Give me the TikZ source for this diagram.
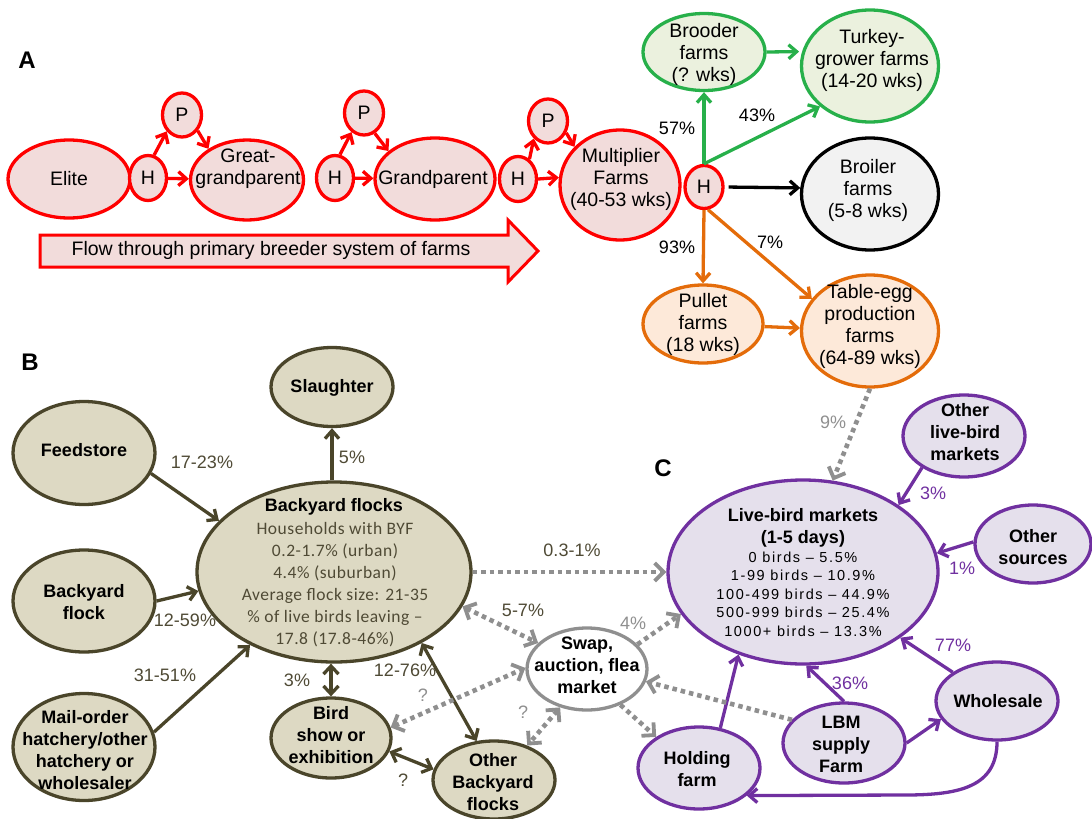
\documentclass[tikz,border=0pt]{standalone}
\usepackage{fontspec}
\setmainfont{Liberation Sans}
\newfontfamily\calibfont[LetterSpace=3]{Carlito}
\newfontfamily\spacedfont[LetterSpace=11]{Liberation Sans}
\usetikzlibrary{shapes.geometric,arrows.meta}
\definecolor{redS}{HTML}{FF0000}
\definecolor{redF}{HTML}{F2DCDB}
\definecolor{grnS}{HTML}{27B04A}
\definecolor{grnF}{HTML}{EBF1DE}
\definecolor{blkF}{HTML}{F2F2F2}
\definecolor{orgS}{HTML}{E46C0A}
\definecolor{orgF}{HTML}{FDE9D9}
\definecolor{olvS}{HTML}{4A452A}
\definecolor{olvF}{HTML}{DDD9C3}
\definecolor{olvT}{HTML}{4F4A35}
\definecolor{purS}{HTML}{7030A0}
\definecolor{purF}{HTML}{E5E0EC}
\definecolor{gryS}{HTML}{8F8F8F}
\newcommand\ftA{\fontsize{19.5}{22}\selectfont}
\newcommand\ftB{\fontsize{18}{22}\selectfont\bfseries}
\newcommand\ftL{\fontsize{18}{20}\selectfont}
\newcommand\ftD{\fontsize{17.5}{22}\selectfont\calibfont}
\newcommand\ftE{\fontsize{14.5}{18.5}\selectfont\spacedfont}
\newcommand\ftT{\fontsize{24}{26}\selectfont\bfseries}
\begin{document}
\begin{tikzpicture}[x=1pt,y=-1pt,
  ell/.style={ellipse, inner sep=0pt, line width=3.3pt},
  redE/.style={ell, draw=redS, fill=redF},
  grnE/.style={ell, draw=grnS, fill=grnF},
  blkE/.style={ell, draw=black, fill=blkF},
  orgE/.style={ell, draw=orgS, fill=orgF},
  olvE/.style={ell, draw=olvS, fill=olvF},
  swpE/.style={ell, draw=gryS, fill=white},
  purE/.style={ell, draw=purS, fill=purF},
  txtA/.style={inner sep=0pt, align=center, font=\ftA},
  txtB/.style={inner sep=0pt, align=center, font=\ftB},
  lbl/.style={inner sep=0pt, font=\ftL},
  conn/.style={line width=3.3pt, -{Straight Barb[length=8pt,width=14pt]}},
  dconn/.style={line width=3.3pt, {Straight Barb[length=8pt,width=15pt]}-{Straight Barb[length=8pt,width=15pt]}},
  redA/.style={conn, draw=redS},
  grnA/.style={conn, draw=grnS},
  blkA/.style={conn, draw=black},
  orgA/.style={conn, draw=orgS},
  olvA/.style={conn, draw=olvS},
  olvD/.style={dconn, draw=olvS},
  purA/.style={conn, draw=purS},
  dotA/.style={line width=4.6pt, draw=gryS, dash pattern=on 4.5pt off 4pt, -{Straight Barb[length=9pt,width=18pt,line width=3.8pt]}},
  dotD/.style={line width=4.6pt, draw=gryS, dash pattern=on 4.5pt off 4pt, {Straight Barb[length=9pt,width=18pt,line width=3.8pt]}-{Straight Barb[length=9pt,width=18pt,line width=3.8pt]}}
]
\useasboundingbox (0,0) rectangle (1092,819);

% ---------------- A ----------------
\node[font=\ftT, inner sep=0pt] (labA) at (27,60) {A};
\node[redE, minimum width=122, minimum height=78] (elite) at (69,179) {};
\node[redE, minimum width=37, minimum height=45, font=\ftA] (h1) at (148,178) {H};
\node[redE, minimum width=39, minimum height=44, font=\ftA] (p1) at (182,115) {P};
\node[redE, minimum width=113, minimum height=80] (gg) at (247,180) {};
\node[redE, minimum width=37, minimum height=45, font=\ftA] (h2) at (335,178) {H};
\node[redE, minimum width=39, minimum height=44, font=\ftA] (p2) at (364,113) {P};
\node[redE, minimum width=120, minimum height=82] (gp) at (435,179) {};
\node[redE, minimum width=37, minimum height=45, font=\ftA] (h3) at (518,179) {H};
\node[redE, minimum width=39, minimum height=44, font=\ftA] (p3) at (548,121) {P};
\node[redE, minimum width=120, minimum height=110] (mult) at (620,185) {};
\node[redE, minimum width=38, minimum height=43, font=\ftA] (hm) at (704,187) {H};
\node[grnE, minimum width=122, minimum height=77] (brood) at (704,52) {};
\node[grnE, minimum width=137, minimum height=112] (turk) at (870,66) {};
\node[blkE, minimum width=137, minimum height=112] (broil) at (870,194) {};
\node[orgE, minimum width=120, minimum height=78] (pull) at (703,324) {};
\node[orgE, minimum width=137, minimum height=112] (table) at (870,331) {};

\node[txtA] (eliteT) at (69,179) {Elite};
\node[txtA] (ggT) at (248,169) {Great-\\grandparent};
\node[txtA] (gpT) at (433,179) {Grandparent};
\node[txtA] (multT) at (621,179) {Multiplier\\Farms\\(40-53 wks)};
\node[txtA] (broodT) at (704,54) {Brooder\\farms\\(? wks)};
\node[txtA] (turkT) at (872,60) {Turkey-\\grower farms\\(14-20 wks)};
\node[txtA] (broilT) at (868,190) {Broiler\\farms\\(5-8 wks)};
\node[txtA] (pullT) at (703,324) {Pullet\\farms\\(18 wks)};
\node[txtA] (tableT) at (870,326) {Table-egg\\production\\farms\\(64-89 wks)};

\draw[redA] (h1.75) -- (p1.227);
\draw[redA] (p1.315) -- (gg.141);
\draw[redA] (h1) -- (gg);
\draw[redA] (h2.78) -- (p2.237);
\draw[redA] (p2.298) -- (gp.149);
\draw[redA] (h2) -- (gp);
\draw[redA] (h3.60) -- (p3.231);
\draw[redA] (p3.327) -- (mult.140);
\draw[redA] (h3.east) -- (mult.173);
\draw[grnA] (hm.north) -- (brood.south);
\draw[grnA] (hm.north) -- (turk.219);
\draw[grnA, shorten >=3pt] (brood.east) -- (turk.168);
\draw[blkA, shorten <=4pt] (hm.east) -- (broil.175);
\draw[orgA] (hm.south) -- (pull.north);
\draw[orgA] (hm.-80) -- (table.151);
\draw[orgA] (pull) -- (table);

\node[lbl] (l57) at (677,128) {57\%};
\node[lbl] (l43) at (757,115) {43\%};
\node[lbl] (l93) at (677,247) {93\%};
\node[lbl] (l7) at (770,242) {7\%};

\path[draw=redS, fill=redF, line width=3pt, line join=miter]
  (40,235) -- (508,235) -- (508,220) -- (538,251) -- (508,282) -- (508,267) -- (40,267) -- cycle;
\node[txtA] (flowT) at (271,250) {Flow through primary breeder system of farms};

% ---------------- B ----------------
\node[font=\ftT, inner sep=0pt] (labB) at (30,362) {B};
\node[olvE, minimum width=122, minimum height=79] (slau) at (332,387) {};
\node[olvE, minimum width=142, minimum height=103] (feed) at (84,453) {};
\node[olvE, minimum width=142, minimum height=102] (byf) at (84,601) {};
\node[olvE, minimum width=142, minimum height=107] (mail) at (84,747) {};
\node[olvE, minimum width=274, minimum height=180] (flocks) at (334,572) {};
\node[olvE, minimum width=120, minimum height=80] (bird) at (331,738) {};
\node[olvE, minimum width=122, minimum height=78] (oby) at (494,780) {};
\node[swpE, minimum width=120, minimum height=82] (swap) at (587,669) {};

\node[txtB] (slauT) at (332,388) {Slaughter};
\node[txtB] (feedT) at (84,450) {Feedstore};
\node[txtB] (byfT) at (84,602) {Backyard\\flock};
\node[txtB] (mailT) at (85,750) {Mail-order\\hatchery/other\\hatchery or\\wholesaler};
\node[txtB] (flocksT) at (334,507) {Backyard flocks};
\node[inner sep=0pt, align=center, font=\ftD, text=olvT] (flocksD) at (335,585)
  {Households with BYF\\0.2-1.7\% (urban)\\4.4\% (suburban)\\Average flock size: 21-35\\\% of live birds leaving –\\17.8 (17.8-46\%)};
\node[txtB] (birdT) at (331,735) {Bird\\show or\\exhibition};
\node[txtB] (obyT) at (493,782) {Other\\Backyard\\flocks};
\node[txtB] (swapT) at (587,665) {Swap,\\auction, flea\\market};

\draw[olvA] (feed.343.6) -- (flocks.156.9);
\draw[olvA] (byf.0.8) -- (flocks.188.4);
\draw[olvA] (mail.12.4) -- (flocks.221);
\draw[olvA] (slau.south |- flocks.north) -- (slau.south);
\draw[olvD] (bird.north |- flocks.south) -- (bird.north);
\draw[olvD] (flocks.321.6) -- (oby.114);
\draw[olvD] (bird.347) -- (oby.170.7);

\node[lbl, text=olvT] (l1723) at (202,462) {17-23\%};
\node[lbl, text=olvT] (l5) at (352,457) {5\%};
\node[lbl, text=olvT] (l1259) at (185,620) {12-59\%};
\node[lbl, text=olvT] (l3151) at (165,675) {31-51\%};
\node[lbl, text=olvT] (l3) at (297,680) {3\%};
\node[lbl, text=olvT] (l1276) at (405,670) {12-76\%};
\node[lbl, text=olvT] (l57b) at (523,610) {5-7\%};
\node[lbl, text=olvT] (l031) at (572,550) {0.3-1\%};
\node[lbl, text=gryS] (lq1) at (423,695) {?};
\node[lbl, text=olvT] (lq2) at (403,780) {?};
\node[lbl, text=gryS] (lq3) at (523,712) {?};
\node[lbl, text=gryS] (l4) at (633,623) {4\%};
\node[lbl, text=gryS] (l9) at (833,422) {9\%};

% ---------------- C ----------------
\node[font=\ftT, inner sep=0pt] (labC) at (663,468) {C};
\node[purE, minimum width=270, minimum height=184] (lbm) at (803,572) {};
\node[purE, minimum width=122, minimum height=82] (olb) at (964,436) {};
\node[purE, minimum width=116, minimum height=78] (osrc) at (1033,544) {};
\node[purE, minimum width=122, minimum height=78] (whole) at (997,701) {};
\node[purE, minimum width=122, minimum height=80] (lbms) at (844,743) {};
\node[purE, minimum width=122, minimum height=82] (hold) at (699,768) {};

\node[txtB] (lbmT) at (803,528) {Live-bird markets\\(1-5 days)};
\node[inner sep=0pt, align=center, font=\ftE] (lbmD) at (803,594)
  {0 birds – 5.5\%\\1-99 birds – 10.9\%\\100-499 birds – 44.9\%\\500-999 birds – 25.4\%\\1000+ birds – 13.3\%};
\node[txtB] (olbT) at (965,432) {Other\\live-bird\\markets};
\node[txtB] (osrcT) at (1033,547) {Other\\sources};
\node[txtB] (wholeT) at (998,701) {Wholesale};
\node[txtB] (lbmsT) at (841,744) {LBM\\supply\\Farm};
\node[txtB] (holdT) at (697,769) {Holding\\farm};

\draw[purA] (olb.217) -- (lbm.35.4);
\draw[purA] (osrc.178) -- (lbm.8.5);
\draw[purA] (whole.147.5) -- (lbm.326);
\draw[purA] (lbms.north) -- (lbm.272.5);
\draw[purA] (lbms.east) -- (whole.198.4);
\draw[purA] (hold.62) -- (lbm.232);
\coordinate (wbend) at (905,795);
\draw[purA] (whole.south) .. controls +(0,45) and +(55,0) .. (wbend) -- (hold.330);

\node[lbl, text=purS] (l3c) at (933,493) {3\%};
\node[lbl, text=purS] (l1c) at (962,568) {1\%};
\node[lbl, text=purS] (l77) at (953,645) {77\%};
\node[lbl, text=purS] (l36) at (850,683) {36\%};

% ---------------- dotted grey flows ----------------
\draw[dotA] (flocks.east) -- (lbm.west);
\draw[dotD] (flocks.345) -- (swap.152.6);
\draw[dotD] (bird.10) -- (swap.179);
\draw[dotD] (swap.235) -- (oby.46.7);
\draw[dotA] (swap.26) -- (lbm.199);
\draw[dotA] (swap.313) -- (hold.144);
\draw[dotA] (lbms.156) -- (swap.348);
\draw[dotA] (table.south) -- (lbm.72.3);
\end{tikzpicture}
\end{document}
